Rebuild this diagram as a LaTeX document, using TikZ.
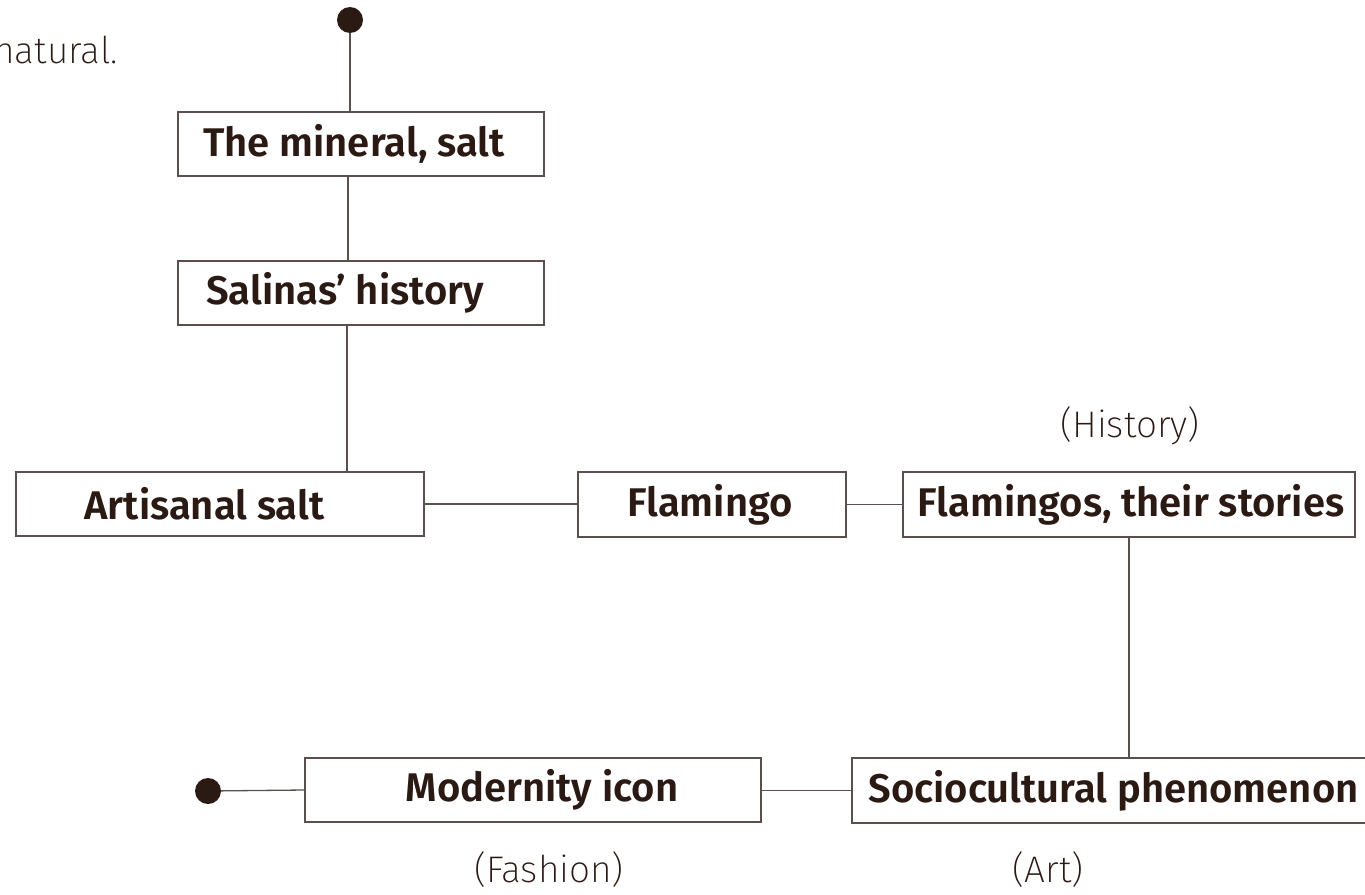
\documentclass[tikz,border=0pt]{standalone}
\usepackage{fontspec}
\setmainfont{Fira Sans}[UprightFont=* SemiBold]
\newfontfamily\lightfont{Fira Sans}[UprightFont=* ExtraLight]
\definecolor{ink}{HTML}{2B1A14}
\definecolor{wire}{HTML}{5A4F4C}
\newcommand\bxt[2]{\hspace*{#1}\raisebox{-5pt}{#2}}
\begin{document}
\begin{tikzpicture}[x=1pt,y=-1pt,
  box/.style={draw=wire, line width=1.2pt, rectangle, inner sep=0pt, text=ink,
    font=\fontsize{40}{42}\selectfont},
  lbl/.style={text=ink, inner sep=0pt, font=\lightfont\fontsize{37}{40}\selectfont},
  wireline/.style={draw=wire, line width=1.3pt},
  dotnode/.style={circle, fill=ink, inner sep=0pt, minimum size=26pt}]
\useasboundingbox (0,0) rectangle (1365,894);
\node[dotnode] (d1) at (350,20) {};
\node[dotnode] (d2) at (208,791) {};
\node[box, minimum width=366, minimum height=64] (b1) at (361,144) {\bxt{-14pt}{The mineral, salt}};
\node[box, minimum width=366, minimum height=64] (b2) at (361,293) {\bxt{-32pt}{Salinas’ history}};
\node[box, minimum width=408, minimum height=64] (b3) at (220,504) {\bxt{-31pt}{Artisanal salt}};
\node[box, minimum width=268, minimum height=65] (b4) at (712,504.5) {\bxt{-4pt}{Flamingo}};
\node[box, minimum width=452, minimum height=65] (b5) at (1129,504.5) {\bxt{4pt}{Flamingos, their stories}};
\node[box, minimum width=540, minimum height=65] (b6) at (1122,790.5) {\bxt{-17pt}{Sociocultural phenomenon}};
\node[box, minimum width=456, minimum height=64] (b7) at (533,790) {\bxt{18pt}{Modernity icon}};
\node[lbl] (l1) at (1130,426) {(History)};
\node[lbl] (l2) at (549,870) {(Fashion)};
\node[lbl] (l3) at (1048,870) {(Art)};
\node[lbl, anchor=base east] (l0) at (118,63) {natural.};
\draw[wireline] (d1) -- (b1.north -| d1);
\draw[wireline] (b1.south -| 348,0) -- (b2.north -| 348,0);
\draw[wireline] (b2.south -| 347,0) -- (b3.north -| 347,0);
\draw[wireline] (b3.east) -- (b4.west |- b3.east);
\draw[wireline] (b4.east) -- (b5.west);
\draw[wireline] (b5.south) -- (b6.north -| b5.south);
\draw[wireline] (b6.west) -- (b7.east |- b6.west);
\draw[wireline] (d2) -- (b7.west);
\end{tikzpicture}
\end{document}
